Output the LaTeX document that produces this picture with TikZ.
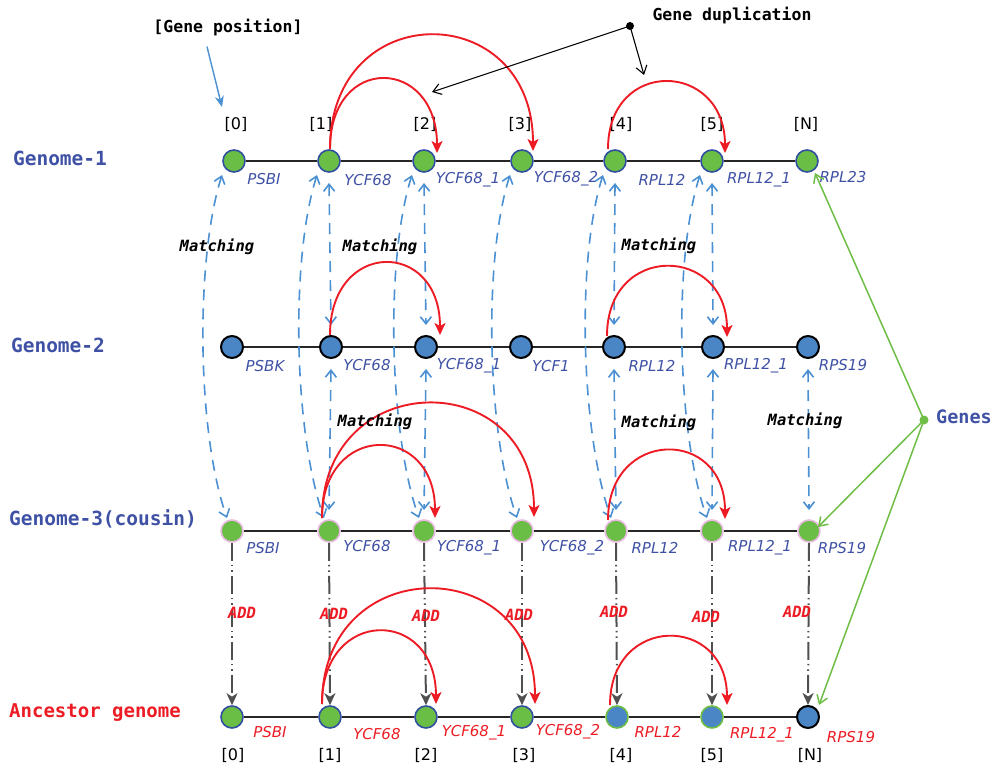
\documentclass[tikz,border=0pt]{standalone}
\usepackage{fontspec}
\setmainfont{DejaVu Sans}
\setmonofont{DejaVu Sans Mono}
\usetikzlibrary{arrows.meta,calc}
\definecolor{labelblue}{RGB}{63,81,165}
\definecolor{dupred}{RGB}{237,28,36}
\definecolor{nodegreen}{RGB}{106,189,69}
\definecolor{nodeblue}{RGB}{74,134,198}
\definecolor{borderblue}{RGB}{50,80,160}
\definecolor{borderpink}{RGB}{232,185,225}
\definecolor{matchblue}{RGB}{74,144,210}
\definecolor{addgray}{RGB}{80,80,80}
\definecolor{genegreen}{RGB}{110,190,70}
\begin{document}
\begin{tikzpicture}[x=1pt,y=-1pt,
  gnode/.style={circle, minimum size=22pt, inner sep=0pt, line width=1.6pt},
  gonenode/.style={gnode, fill=nodegreen, draw=borderblue},
  gtwonode/.style={gnode, fill=nodeblue, draw=black, line width=2pt},
  gthreenode/.style={gnode, fill=nodegreen, draw=borderpink},
  chainline/.style={line width=1.9pt, draw=black!85},
  glab/.style={font=\fontsize{15}{15}\selectfont\itshape, text=labelblue, inner sep=0pt},
  alab/.style={glab, text=dupred},
  poslab/.style={font=\fontsize{16}{16}\selectfont, inner sep=0pt},
  genlab/.style={font=\fontsize{19.5}{20}\selectfont\ttfamily\bfseries, text=labelblue, inner sep=0pt},
  matchlab/.style={font=\fontsize{15.5}{16}\selectfont\ttfamily\bfseries\itshape, inner sep=0pt},
  addlab/.style={font=\fontsize{15.5}{16}\selectfont\ttfamily\bfseries\itshape, text=dupred, inner sep=0pt},
  notelab/.style={font=\fontsize{16.5}{17}\selectfont\ttfamily\bfseries, inner sep=0pt},
  matchline/.style={draw=matchblue, line width=1.6pt, dash pattern=on 11pt off 8pt, >={Straight Barb[length=7pt,width=11pt]}},
  redarc/.style={draw=dupred, line width=1.9pt, -{Stealth[length=12pt,width=11pt,inset=3pt]}},
  addline/.style={draw=addgray, line width=2pt, dash pattern=on 18pt off 4pt on 1.5pt off 4pt on 1.5pt off 4pt, -{Stealth[length=12pt,width=11pt,inset=3.5pt]}},
  thinarrow/.style={line width=1.1pt, -{Straight Barb[length=8pt,width=11pt]}}
]
\useasboundingbox (0,0) rectangle (995,767);

% ---------- nodes ----------
\foreach \i/\x in {0/234,1/329,2/424,3/522,4/615,5/712,6/807}
  \node[gonenode] (g1-\i) at (\x,161) {};
\foreach \i/\x in {0/232,1/331,2/426,3/521,4/614,5/713,6/808}
  \node[gtwonode] (g2-\i) at (\x,347) {};
\foreach \i/\x in {0/232,1/329,2/424,3/522,4/616,5/712,6/809}
  \node[gthreenode] (g3-\i) at (\x,531) {};
\node[gonenode] (anc-0) at (232,717) {};
\node[gonenode] (anc-1) at (330,717) {};
\node[gonenode] (anc-2) at (426,717) {};
\node[gonenode] (anc-3) at (522,717) {};
\node[gnode, fill=nodeblue, draw=genegreen] (anc-4) at (617,717) {};
\node[gnode, fill=nodeblue, draw=genegreen] (anc-5) at (712,717) {};
\node[gtwonode] (anc-6) at (808,717) {};

% ---------- chain lines ----------
\foreach \g in {g1,g2,g3,anc}{
  \draw[chainline] (\g-0) -- (\g-1) -- (\g-2) -- (\g-3) -- (\g-4) -- (\g-5) -- (\g-6);
}

% ---------- left labels ----------
\node[genlab] (lab-g1) at (60,158) {Genome-1};
\node[genlab] (lab-g2) at (58,345) {Genome-2};
\node[genlab] (lab-g3) at (103,519) {Genome-3(cousin)};
\node[genlab, text=dupred, font=\fontsize{19}{20}\selectfont\ttfamily\bfseries] (lab-anc) at (95,713) {Ancestor genome};

% ---------- position labels ----------
\foreach \i/\x/\t in {0/236/[0],1/321/[1],2/425/[2],3/520/[3],4/621/[4],5/712/[5],6/806/[N]}
  \node[poslab] (ptop-\i) at (\x,124) {\t};
\foreach \i/\x/\t in {0/233/[0],1/330/[1],2/426/[2],3/524/[3],4/621/[4],5/712/[5],6/810/[N]}
  \node[poslab] (pbot-\i) at (\x,755) {\t};

% ---------- gene labels ----------
\node[glab] (l1-0) at (264,179) {PSBI};
\node[glab] (l1-1) at (368,180) {YCF68};
\node[glab] (l1-2) at (468,180) {YCF68\_1};
\node[glab] (l1-3) at (566,179) {YCF68\_2};
\node[glab] (l1-4) at (662,180) {RPL12};
\node[glab] (l1-5) at (759,180) {RPL12\_1};
\node[glab] (l1-6) at (843,177) {RPL23};

\node[glab] (l2-0) at (265,366) {PSBK};
\node[glab] (l2-1) at (367,365) {YCF68};
\node[glab] (l2-2) at (469,366) {YCF68\_1};
\node[glab] (l2-3) at (551,366) {YCF1};
\node[glab] (l2-4) at (652,366) {RPL12};
\node[glab] (l2-5) at (756,366) {RPL12\_1};
\node[glab] (l2-6) at (843,365) {RPS19};

\node[glab] (l3-0) at (263,548) {PSBI};
\node[glab] (l3-1) at (367,546) {YCF68};
\node[glab] (l3-2) at (469,548) {YCF68\_1};
\node[glab] (l3-3) at (572,548) {YCF68\_2};
\node[glab] (l3-4) at (655,548) {RPL12};
\node[glab] (l3-5) at (760,548) {RPL12\_1};
\node[glab] (l3-6) at (842,548) {RPS19};

\node[alab] (la-0) at (270,732) {PSBI};
\node[alab] (la-1) at (377,734) {YCF68};
\node[alab] (la-2) at (474,733) {YCF68\_1};
\node[alab] (la-3) at (568,732) {YCF68\_2};
\node[alab] (la-4) at (658,732) {RPL12};
\node[alab] (la-5) at (762,735) {RPL12\_1};
\node[alab] (la-6) at (851,737) {RPS19};

% ---------- matching: long curves genome-1 <-> genome-3 ----------
\foreach \i in {0,...,5}{
  \draw[matchline,<->] ($(g1-\i)+(-12,14)$) .. controls ($(g1-\i)+(-39,99)$) and ($(g3-\i)+(-35,-98)$) .. ($(g3-\i)+(-5,-13)$);
}
% ---------- matching: straight genome-1 <-> genome-2 ----------
\foreach \i in {1,2,4,5}{
  \draw[matchline,<->] ($(g1-\i)+(0,22)$) -- ($(g2-\i)+(0,-22)$);
}
% ---------- matching: straight genome-2 <-> genome-3 ----------
\foreach \i in {1,2,4,5,6}{
  \draw[matchline,<->] ($(g2-\i)+(0,22)$) -- ($(g3-\i)+(0,-21)$);
}

% ---------- ADD lines ----------
\foreach \i in {0,...,6}{
  \draw[addline] (g3-\i.south) -- (anc-\i.north);
}

% ---------- red duplication arcs ----------
% genome-1
\draw[redarc] ($(g1-1)+(1,-12)$) .. controls ($(g1-1)+(1,-108)$) and ($(g1-2)+(13,-104)$) .. ($(g1-2)+(13,-8)$);
\draw[redarc] ($(g1-1)+(1,-12)$) .. controls ($(g1-1)+(1,-165)$) and ($(g1-3)+(11,-163)$) .. ($(g1-3)+(11,-10)$);
\draw[redarc] ($(g1-4)+(-7,-12)$) .. controls ($(g1-4)+(-7,-104)$) and ($(g1-5)+(13,-100)$) .. ($(g1-5)+(13,-8)$);
% genome-2
\draw[redarc] ($(g2-1)+(-1,-12)$) .. controls ($(g2-1)+(-1,-108)$) and ($(g2-2)+(14,-108)$) .. ($(g2-2)+(14,-12)$);
\draw[redarc] ($(g2-4)+(-7,-11)$) .. controls ($(g2-4)+(-7,-105)$) and ($(g2-5)+(14,-102)$) .. ($(g2-5)+(14,-10)$);
% genome-3
\draw[redarc] ($(g3-1)+(-7,-13)$) .. controls ($(g3-1)+(-7,-109)$) and ($(g3-2)+(11,-109)$) .. ($(g3-2)+(11,-13)$);
\draw[redarc] ($(g3-1)+(-7,-13)$) .. controls ($(g3-1)+(-7,-165)$) and ($(g3-3)+(12,-166)$) .. ($(g3-3)+(12,-14)$);
\draw[redarc] ($(g3-4)+(-8,-11)$) .. controls ($(g3-4)+(-8,-103)$) and ($(g3-5)+(13,-104)$) .. ($(g3-5)+(13,-12)$);
% ancestor
\draw[redarc] ($(anc-1)+(-8,-13)$) .. controls ($(anc-1)+(-8,-110)$) and ($(anc-2)+(10,-110)$) .. ($(anc-2)+(10,-13)$);
\draw[redarc] ($(anc-1)+(-8,-13)$) .. controls ($(anc-1)+(-8,-166)$) and ($(anc-3)+(13,-166)$) .. ($(anc-3)+(13,-13)$);
\draw[redarc] ($(anc-4)+(-7,-12)$) .. controls ($(anc-4)+(-7,-103)$) and ($(anc-5)+(15,-103)$) .. ($(anc-5)+(15,-12)$);

% ---------- Matching / ADD labels ----------
\node[matchlab] (m1) at (217,247) {Matching};
\node[matchlab] (m2) at (380,247) {Matching};
\node[matchlab] (m3) at (659,246) {Matching};
\node[matchlab] (m4) at (375,422) {Matching};
\node[matchlab] (m5) at (659,423) {Matching};
\node[matchlab] (m6) at (805,421) {Matching};

\node[addlab] (a0) at (242,613) {ADD};
\node[addlab] (a1) at (334,614) {ADD};
\node[addlab] (a2) at (426,616) {ADD};
\node[addlab] (a3) at (519,615) {ADD};
\node[addlab] (a4) at (614,612) {ADD};
\node[addlab] (a5) at (706,617) {ADD};
\node[addlab] (a6) at (797,612) {ADD};

% ---------- annotations ----------
\node[notelab] (gpos) at (228,28) {[Gene position]};
\coordinate (gpos-tip) at (222,107);
\draw[draw=matchblue, line width=1.4pt, -{Stealth[length=11pt,width=9pt]}] ($(gpos.south)+(-21,10)$) -- (gpos-tip);

\node[notelab] (gdup) at (732,16) {Gene duplication};
\node[circle, fill=black, inner sep=0pt, minimum size=8pt] (gdup-dot) at (630,26) {};
\coordinate (gdup-a) at (432,92);
\coordinate (gdup-b) at (644,75);
\draw[thinarrow] (gdup-dot.center) -- (gdup-a);
\draw[thinarrow] (gdup-dot.center) -- (gdup-b);

\node[genlab, font=\fontsize{18.5}{19}\selectfont\ttfamily\bfseries] (genes) at (964,417) {Genes};
\node[circle, fill=genegreen, inner sep=0pt, minimum size=9pt] (genes-dot) at (924,420) {};
\draw[thinarrow, draw=genegreen, line width=1.5pt] (genes-dot.center) -- ($(g1-6)+(8,12)$);
\draw[thinarrow, draw=genegreen, line width=1.5pt] (genes-dot.center) -- ($(g3-6)+(9,-4)$);
\draw[thinarrow, draw=genegreen, line width=1.5pt] (genes-dot.center) -- ($(anc-6)+(11,-12)$);
\end{tikzpicture}
\end{document}
